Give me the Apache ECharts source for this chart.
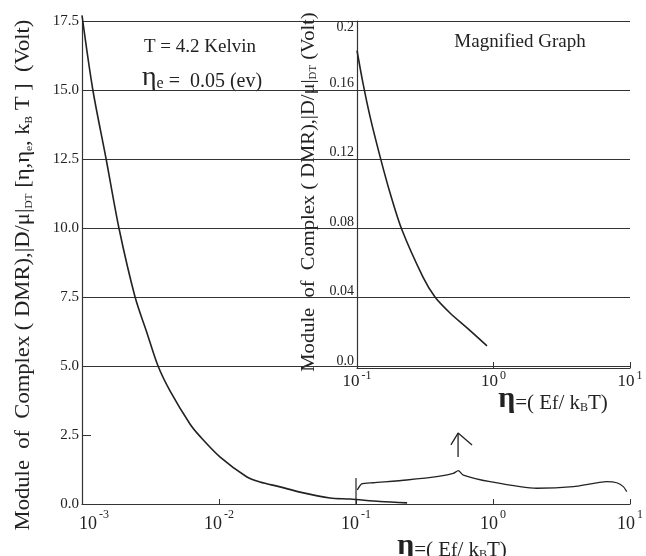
<!DOCTYPE html>
<html>
<head>
<meta charset="utf-8">
<script src="https://cdn.jsdelivr.net/npm/echarts@6/dist/echarts.min.js"></script>
<style>
  html, body { margin: 0; padding: 0; background: #fff; }
  #chart { width: 646px; height: 556px; }
</style>
</head>
<body>
<div id="chart"></div>
<script>
// main curve: eta = Ef/kBT , |D/mu| in Volt
const mainEta = [0.00100, 0.00120, 0.00150, 0.00186, 0.00244, 0.00298, 0.00359, 0.00439, 0.00614, 0.00727, 0.0102, 0.0160, 0.0199, 0.0279, 0.0390, 0.0646, 0.0904, 0.1497, 0.236]
const mainVolt = [17.7, 15.0, 12.5, 10.0, 7.5, 6.2, 5.0, 4.1, 2.9, 2.45, 1.7, 0.98, 0.80, 0.62, 0.43, 0.22, 0.18, 0.09, 0.04]

// magnified graph (inset)
const insetEta = [0.100, 0.1107, 0.1245, 0.1474, 0.1745, 0.2137, 0.3045, 0.3727, 0.480, 0.640, 0.896]
const insetVolt = [0.183, 0.164, 0.145, 0.122, 0.101, 0.0795, 0.0524, 0.0409, 0.0317, 0.0231, 0.0127]

// brace + arrow marking the magnified range (main axes units)
const braceEta = [0.1022, 0.110, 0.1337, 0.2345, 0.410, 0.513, 0.558, 0.607, 0.951, 2.08, 3.86, 6.76, 8.0, 8.94, 9.46]
const braceVolt = [0.51, 0.73, 0.77, 0.87, 1.01, 1.11, 1.21, 1.05, 0.81, 0.57, 0.63, 0.81, 0.77, 0.63, 0.45]
const braceBarEta = [0.1, 0.1]
const braceBarVolt = [0, 0.94]
const arrowShaftEta = [0.556, 0.556]
const arrowShaftVolt = [1.70, 2.57]
const arrowHeadEta = [0.493, 0.556, 0.703]
const arrowHeadVolt = [2.14, 2.57, 2.14]

const mainYTicks = ['0.0', '2.5', '5.0', '7.5', '10.0', '12.5', '15.0', '17.5']
const insetYTicks = ['0.0', '0.04', '0.08', '0.12', '0.16', '0.2']

const FONT = '"Liberation Serif", "Times New Roman", serif'
const INK = '#222'
const LINE = '#333'

function pairs(xs, ys) {
  return xs.map((x, i) => [x, ys[i]])
}

function powLabel(v) {
  const e = Math.round(Math.log10(v))
  // the 10^-3 label sits a bit right of the axis corner in the original
  return (e === -3 ? '{b0|10}' : '{b|10}') + '{s|' + e + '}'
}

// no grid line at 0.0 and 2.5, only a short tick there
const gridColors = ['rgba(0,0,0,0)', 'rgba(0,0,0,0)', LINE, LINE, LINE, LINE, LINE, LINE]

const nameRich = (size, subSize) => ({
  t: { fontFamily: FONT, fontSize: size, fill: INK, lineHeight: size + 6, verticalAlign: 'bottom' },
  sub: { fontFamily: FONT, fontSize: subSize, fill: INK, lineHeight: size + 6, verticalAlign: 'bottom' },
})

const etaRich = {
  eta: { fontFamily: FONT, fontSize: 30, fontWeight: 'bold', fill: INK, lineHeight: 28, verticalAlign: 'bottom' },
  t: { fontFamily: FONT, fontSize: 21, fill: INK, lineHeight: 28, verticalAlign: 'bottom' },
  sub: { fontFamily: FONT, fontSize: 19, fill: INK, lineHeight: 32, verticalAlign: 'bottom' },
  sb: { fontFamily: FONT, fontSize: 12, fill: INK, lineHeight: 26, verticalAlign: 'bottom' },
}

const chart = echarts.init(document.getElementById('chart'))

const thinSeries = (name, data, width) => ({
  name: name,
  type: 'line',
  xAxisIndex: 0,
  yAxisIndex: 0,
  data: data,
  showSymbol: false,
  symbol: 'none',
  clip: false,
  silent: true,
  lineStyle: { color: INK, width: width },
})

const option = {
  backgroundColor: '#fff',
  animation: false,
  textStyle: { fontFamily: FONT, color: INK },
  grid: [
    { left: 82, right: 16, top: 21, bottom: 52 },
    { left: 357, right: 16, top: 21, bottom: 188 },
  ],
  xAxis: [
    {
      gridIndex: 0,
      type: 'log',
      logBase: 10,
      min: 0.001,
      max: 10,
      axisLine: { lineStyle: { color: LINE, width: 1.2 } },
      axisTick: { inside: true, length: 5, lineStyle: { color: LINE } },
      minorTick: { show: false },
      splitLine: { show: false },
      axisLabel: {
        margin: 5,
        formatter: powLabel,
        rich: {
          b: { fontFamily: FONT, fontSize: 18, color: INK, lineHeight: 24, verticalAlign: 'bottom' },
          b0: { fontFamily: FONT, fontSize: 18, color: INK, lineHeight: 24, verticalAlign: 'bottom', padding: [0, 0, 0, 24] },
          s: { fontFamily: FONT, fontSize: 12, color: INK, lineHeight: 24, verticalAlign: 'top', padding: [0, 0, 0, 2] },
        },
      },
    },
    {
      gridIndex: 1,
      type: 'log',
      logBase: 10,
      min: 0.1,
      max: 10,
      axisLine: { lineStyle: { color: LINE, width: 1.2 } },
      axisTick: { inside: true, length: 6, lineStyle: { color: LINE } },
      minorTick: { show: false },
      splitLine: { show: false },
      axisLabel: {
        margin: 2,
        formatter: powLabel,
        rich: {
          b: { fontFamily: FONT, fontSize: 17, color: INK, lineHeight: 20, verticalAlign: 'bottom' },
          b0: { fontFamily: FONT, fontSize: 17, color: INK, lineHeight: 20, verticalAlign: 'bottom' },
          s: { fontFamily: FONT, fontSize: 12, color: INK, lineHeight: 20, verticalAlign: 'top', padding: [0, 0, 0, 2] },
        },
      },
    },
  ],
  yAxis: [
    {
      gridIndex: 0,
      type: 'value',
      min: 0,
      max: 17.5,
      interval: 2.5,
      axisLine: { show: true, lineStyle: { color: LINE, width: 1.2 } },
      axisTick: { show: true, inside: true, length: 9, lineStyle: { color: LINE } },
      splitLine: { show: true, lineStyle: { color: gridColors, width: 1 } },
      axisLabel: {
        margin: 3,
        fontFamily: FONT,
        fontSize: 15,
        color: INK,
        formatter: (v) => mainYTicks[Math.round(v / 2.5)],
      },
    },
    {
      gridIndex: 1,
      type: 'value',
      min: 0,
      max: 0.2,
      interval: 0.04,
      axisLine: { show: true, lineStyle: { color: LINE, width: 1.2 } },
      axisTick: { show: false },
      splitLine: { show: false },
      axisLabel: {
        margin: 3,
        formatter: (v) => {
          const i = Math.round(v / 0.04)
          return i === 5 ? '{t|' + insetYTicks[i] + '}' : '{n|' + insetYTicks[i] + '}'
        },
        rich: {
          n: { fontFamily: FONT, fontSize: 14, color: INK, padding: [0, 0, 14, 0] },
          t: { fontFamily: FONT, fontSize: 14, color: INK, padding: [12, 0, 0, 0] },
        },
      },
    },
  ],
  graphic: [
    // y axis titles, stretched along the text like in the original scan
    {
      type: 'text', x: 21, y: 275, rotation: Math.PI / 2, scaleX: 1.13,
      style: {
        text: '{t|Module  of  Complex ( DMR),|D/μ|}{sub|DT}{t| [η,η}{sub|e}{t|, k}{sub|B}{t| T ]  (Volt)}',
        align: 'center', verticalAlign: 'middle',
        rich: nameRich(20, 10),
      },
    },
    {
      type: 'text', x: 306, y: 192, rotation: Math.PI / 2, scaleX: 1.08,
      style: {
        text: '{t|Module  of  Complex ( DMR),|D/μ|}{sub|DT}{t| (Volt)}',
        align: 'center', verticalAlign: 'middle',
        rich: nameRich(19, 10),
      },
    },
    {
      type: 'text', x: 200, y: 47,
      style: { text: 'T = 4.2 Kelvin', font: '19px ' + FONT, fill: INK, align: 'center', verticalAlign: 'middle' },
    },
    {
      type: 'text', x: 202, y: 78,
      style: {
        text: '{eta|η}{sub|e}{t| =  0.05 (ev)}',
        align: 'center', verticalAlign: 'middle',
        rich: {
          eta: { fontFamily: FONT, fontSize: 28, fill: INK, lineHeight: 28, verticalAlign: 'bottom' },
          sub: { fontFamily: FONT, fontSize: 16, fill: INK, lineHeight: 28, verticalAlign: 'bottom' },
          t: { fontFamily: FONT, fontSize: 20, fill: INK, lineHeight: 28, verticalAlign: 'bottom' },
        },
      },
    },
    {
      type: 'text', x: 520, y: 42,
      style: { text: 'Magnified Graph', font: '19px ' + FONT, fill: INK, align: 'center', verticalAlign: 'middle' },
    },
    {
      type: 'text', x: 452, y: 545,
      style: { text: '{eta|η}{t|=( E}{sub|f}{t|/ k}{sb|B}{t|T)}', align: 'center', verticalAlign: 'middle', rich: etaRich },
    },
    {
      type: 'text', x: 553, y: 398,
      style: { text: '{eta|η}{t|=( E}{sub|f}{t|/ k}{sb|B}{t|T)}', align: 'center', verticalAlign: 'middle', rich: etaRich },
    },
  ],
  series: [
    Object.assign(thinSeries('main', pairs(mainEta, mainVolt), 1.6), { smooth: 0.3 }),
    Object.assign(thinSeries('brace', pairs(braceEta, braceVolt), 1.3), { smooth: 0.2 }),
    thinSeries('braceBar', pairs(braceBarEta, braceBarVolt), 1.2),
    thinSeries('arrowShaft', pairs(arrowShaftEta, arrowShaftVolt), 1.3),
    thinSeries('arrowHead', pairs(arrowHeadEta, arrowHeadVolt), 1.3),
    {
      name: 'magnified',
      type: 'line',
      xAxisIndex: 1,
      yAxisIndex: 1,
      data: pairs(insetEta, insetVolt),
      showSymbol: false,
      symbol: 'none',
      smooth: 0.3,
      silent: true,
      lineStyle: { color: INK, width: 1.6 },
    },
  ],
}

chart.setOption(option)
</script>
</body>
</html>
